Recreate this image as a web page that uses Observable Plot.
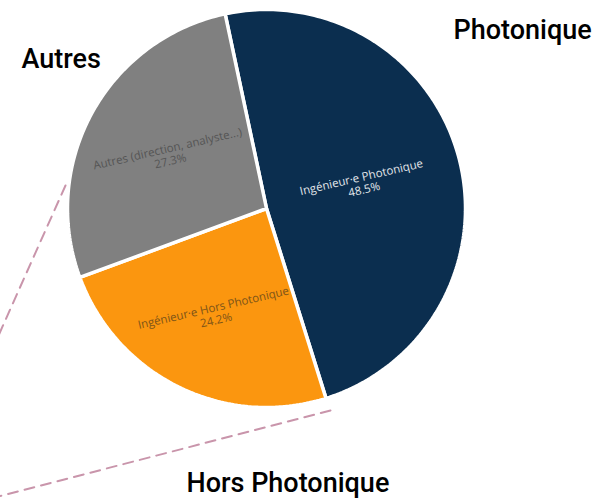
<!DOCTYPE html>
<html><head><meta charset="utf-8">
<script src="https://cdn.jsdelivr.net/npm/d3@7"></script>
<script src="https://cdn.jsdelivr.net/npm/@observablehq/plot@0.6"></script>
<style>html,body{margin:0;padding:0;background:#fff;}</style>
</head><body><div id="chart"></div>
<script>
// ---- data ----
const categories = ["Ingénieur·e Photonique", "Ingénieur·e Hors Photonique", "Autres (direction, analyste...)"];
const shares = [48.5, 24.2, 27.3];
const groupNames = ["Photonique", "Hors Photonique", "Autres"];
const sliceColors = ["#0b2e4f", "#fb960f", "#808080"];
const labelColors = ["#e2e6ea", "#7d5418", "#555555"];

// ---- layout ----
const W = 592, H = 499;
const cx = 266, cy = 208, R = 199;
const startDeg = -12, tilt = -13;
const labelRadius = [0.5, 0.59, 0.56];
const groupAnchors = [[453, 38], [186, 491], [21, 67]];
const connectors = [[[65, 185], [-6, 344]], [[330, 410], [-6, 497]]];

const a0 = startDeg * Math.PI / 180;
const arcs = d3.pie().sort(null).startAngle(a0).endAngle(a0 + 2 * Math.PI)(shares);

const slicePts = arcs.map((a, i) => {
  const n = Math.max(2, Math.ceil((a.endAngle - a.startAngle) / (Math.PI / 180)));
  const pts = [{x: 0, y: 0}];
  for (let j = 0; j <= n; j++) {
    const t = a.startAngle + (a.endAngle - a.startAngle) * j / n;
    pts.push({x: R * Math.sin(t), y: -R * Math.cos(t)});
  }
  return pts;
});

const sliceLabels = arcs.map((a, i) => {
  const m = (a.startAngle + a.endAngle) / 2;
  const r = R * labelRadius[i];
  return {x: r * Math.sin(m), y: -r * Math.cos(m), text: `${categories[i]}\n${shares[i].toFixed(1)}%`, color: labelColors[i]};
});

const groupLabels = groupNames.map((g, i) => ({x: groupAnchors[i][0] - cx, y: groupAnchors[i][1] - cy, text: g}));
const connectorPts = connectors.flatMap((c, k) => c.map(p => ({k, x: p[0] - cx, y: p[1] - cy})));

const chart = Plot.plot({
  width: W, height: H,
  margin: 0,
  x: {domain: [-cx, W - cx], range: [0, W], axis: null},
  y: {domain: [-cy, H - cy], range: [0, H], axis: null},
  color: {type: "identity"},
  style: {background: "#fff", fontFamily: "Open Sans", overflow: "hidden"},
  marks: [
    Plot.line(connectorPts, {x: "x", y: "y", z: "k", stroke: "#c995ab", strokeWidth: 2, strokeDasharray: "10,7"}),
    ...slicePts.map((pts, i) => Plot.line(pts, {x: "x", y: "y", fill: sliceColors[i], stroke: "#fff", strokeWidth: 3.5, strokeLinejoin: "miter", curve: "linear-closed"})),
    Plot.text(sliceLabels, {x: "x", y: "y", text: "text", fill: "color", rotate: tilt, fontSize: 11.5, lineHeight: 1.1, fontFamily: "Open Sans", textAnchor: "middle"}),
    Plot.text(groupLabels, {x: "x", y: "y", text: "text", textAnchor: "start", lineAnchor: "bottom", fontSize: 27, fontWeight: 500, fontFamily: "Roboto", fill: "#000"})
  ]
});
document.getElementById("chart").appendChild(chart);
</script>
</body></html>
